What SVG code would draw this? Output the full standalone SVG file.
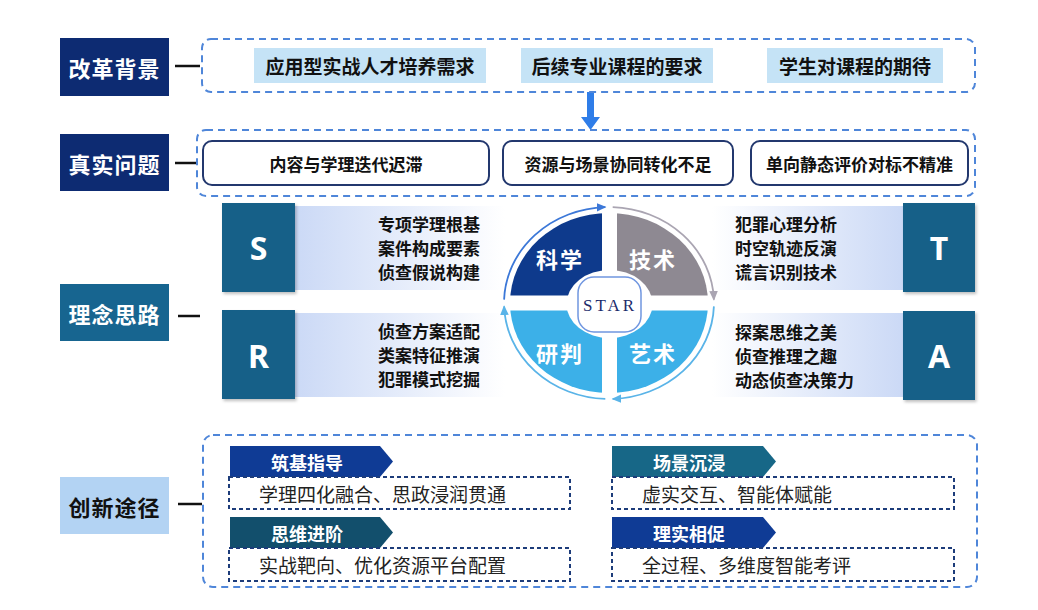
<svg xmlns="http://www.w3.org/2000/svg" width="1038" height="610" viewBox="0 0 1038 610">
<style>
.lbl{font-family:"Noto Sans CJK SC","Noto Sans",sans-serif;font-weight:700;font-size:22px;letter-spacing:1px;text-anchor:middle;dominant-baseline:central}
.w{fill:#fff}
.dk{fill:#111}
.conn{stroke:#111;stroke-width:2.5}
.dash{fill:none;stroke:#4f86d9;stroke-width:2;stroke-dasharray:7 5}
.need{fill:#c5e3f6}
.needt{font-family:"Noto Sans CJK SC",sans-serif;font-weight:700;font-size:19px;fill:#111;text-anchor:middle;dominant-baseline:central}
.prob{fill:#fff;stroke:#23386e;stroke-width:2}
.probt{font-family:"Noto Sans CJK SC",sans-serif;font-weight:700;font-size:17px;fill:#111;text-anchor:middle;dominant-baseline:central}
.letter{fill:#156188}
.lt{font-family:"Noto Sans","Liberation Sans",sans-serif;font-weight:700;font-size:32px;fill:#fff;text-anchor:middle;dominant-baseline:central}
.item{font-family:"Noto Sans CJK SC",sans-serif;font-weight:700;font-size:17px;fill:#111}
.q{font-family:"Noto Sans CJK SC",sans-serif;font-weight:700;font-size:22px;letter-spacing:2px;fill:#fff;text-anchor:middle;dominant-baseline:central}
.tag{font-family:"Noto Sans CJK SC",sans-serif;font-weight:700;font-size:18px;fill:#fff;dominant-baseline:central}
.pbox{fill:#fff;stroke:#1d3c7a;stroke-width:2;stroke-dasharray:4 3}
.pt{font-family:"Noto Sans CJK SC",sans-serif;font-weight:400;font-size:19px;fill:#222;dominant-baseline:central}
</style>
<defs>
<linearGradient id="gS" x1="0" y1="0" x2="1" y2="0"><stop offset="0" stop-color="#cbd9f6"/><stop offset="1" stop-color="#ffffff"/></linearGradient>
<linearGradient id="gT" x1="0" y1="0" x2="1" y2="0"><stop offset="0" stop-color="#ffffff"/><stop offset="1" stop-color="#cbd9f6"/></linearGradient>
<filter id="sh" x="-10%" y="-10%" width="130%" height="130%"><feDropShadow dx="1.5" dy="2" stdDeviation="1.5" flood-color="#000" flood-opacity="0.25"/></filter>
<marker id="mB" viewBox="0 0 10 10" refX="8" refY="5" markerWidth="6" markerHeight="6" orient="auto"><path d="M0,1 L9,5 L0,9 Z" fill="#3c78d8"/></marker>
<marker id="mG" viewBox="0 0 10 10" refX="8" refY="5" markerWidth="6" markerHeight="6" orient="auto"><path d="M0,1 L9,5 L0,9 Z" fill="#aaa5b2"/></marker>
<marker id="mL" viewBox="0 0 10 10" refX="8" refY="5" markerWidth="6" markerHeight="6" orient="auto"><path d="M0,1 L9,5 L0,9 Z" fill="#5ab4e8"/></marker>
</defs>
<rect width="1038" height="610" fill="#fff"/>

<g id="connectors">
<line class="conn" x1="175" y1="66" x2="200" y2="66"/>
<line class="conn" x1="175" y1="163" x2="198" y2="163"/>
<line class="conn" x1="178" y1="316" x2="200" y2="316"/>
<line class="conn" x1="178" y1="504" x2="202" y2="504"/>
<path d="M587,92 L594,92 L594,117 L600,117 L590.5,130 L581,117 L587,117 Z" fill="#2f7de8"/>
</g>

<g id="bg-row">
<rect x="60" y="38" width="109" height="58" fill="#0d2b72"/>
<text class="lbl w" x="114.5" y="67">改革背景</text>
<rect class="dash" x="202" y="39" width="773" height="53" rx="9"/>
<rect class="need" x="254" y="48" width="232" height="35"/>
<text class="needt" x="370" y="65.5">应用型实战人才培养需求</text>
<rect class="need" x="521" y="48" width="192" height="35"/>
<text class="needt" x="617" y="65.5">后续专业课程的要求</text>
<rect class="need" x="767" y="48" width="176" height="35"/>
<text class="needt" x="855" y="65.5">学生对课程的期待</text>
</g>

<g id="problem-row">
<rect x="60" y="134" width="109" height="57" fill="#0d2b72"/>
<text class="lbl w" x="114.5" y="162.5">真实问题</text>
<rect class="dash" x="197" y="130" width="778" height="66" rx="9"/>
<rect class="prob" x="203" y="141" width="286" height="44" rx="9"/>
<text class="probt" x="346" y="163">内容与学理迭代迟滞</text>
<rect class="prob" x="503" y="141" width="230" height="44" rx="9"/>
<text class="probt" x="618" y="163">资源与场景协同转化不足</text>
<rect class="prob" x="751" y="141" width="217" height="44" rx="9"/>
<text class="probt" x="859.5" y="163">单向静态评价对标不精准</text>
</g>

<g id="idea-label">
<rect x="60" y="284" width="109" height="57" fill="#176590"/>
<text class="lbl w" x="114.5" y="312.5">理念思路</text>
</g>

<g id="node-S">
<rect x="295" y="206" width="210" height="84" fill="url(#gS)"/>
<rect class="letter" x="222" y="203" width="73" height="89" filter="url(#sh)"/>
<text class="lt" x="258.5" y="247">S</text>
<text class="item" x="480" y="231" text-anchor="end">专项学理根基</text>
<text class="item" x="480" y="255" text-anchor="end">案件构成要素</text>
<text class="item" x="480" y="279" text-anchor="end">侦查假说构建</text>
</g>
<g id="node-R">
<rect x="295" y="313" width="210" height="84" fill="url(#gS)"/>
<rect class="letter" x="222" y="310" width="73" height="89" filter="url(#sh)"/>
<text class="lt" x="258.5" y="355">R</text>
<text class="item" x="480" y="338" text-anchor="end">侦查方案适配</text>
<text class="item" x="480" y="362" text-anchor="end">类案特征推演</text>
<text class="item" x="480" y="386" text-anchor="end">犯罪模式挖掘</text>
</g>
<g id="node-T">
<rect x="712" y="206" width="191" height="84" fill="url(#gT)"/>
<rect class="letter" x="903" y="203" width="72" height="89" filter="url(#sh)"/>
<text class="lt" x="939" y="247">T</text>
<text class="item" x="735" y="231">犯罪心理分析</text>
<text class="item" x="735" y="255">时空轨迹反演</text>
<text class="item" x="735" y="279">谎言识别技术</text>
</g>
<g id="node-A">
<rect x="712" y="313" width="191" height="84" fill="url(#gT)"/>
<rect class="letter" x="903" y="311" width="72" height="89" filter="url(#sh)"/>
<text class="lt" x="939" y="355">A</text>
<text class="item" x="735" y="339">探案思维之美</text>
<text class="item" x="735" y="363">侦查推理之趣</text>
<text class="item" x="735" y="387">动态侦查决策力</text>
</g>

<g id="star">
<path d="M609,303 L510,303 A99 90 0 0 1 609,213 Z" fill="#0e3a8c"/>
<path d="M609,303 L609,213 A99 90 0 0 1 708,303 Z" fill="#8e8992"/>
<path d="M609,303 L708,303 A99 90 0 0 1 609,393 Z" fill="#3cb0e8"/>
<path d="M609,303 L609,393 A99 90 0 0 1 510,303 Z" fill="#3cb0e8"/>
<rect x="602" y="205" width="15" height="196" fill="#fff"/>
<rect x="502" y="295.5" width="214" height="15" fill="#fff"/>
<ellipse cx="609.5" cy="304" rx="43" ry="34" fill="#fff"/>
<rect x="578" y="277" width="63" height="55" rx="16" fill="#fff" stroke="#7096e0" stroke-width="1.5"/>
<text x="610" y="305" font-family="Liberation Serif,serif" font-size="17" letter-spacing="3" fill="#1b2b6b" text-anchor="middle" dominant-baseline="central">STAR</text>
<text class="q" x="560" y="258">科学</text>
<text class="q" x="653" y="258">技术</text>
<text class="q" x="560" y="352">研判</text>
<text class="q" x="653" y="352">艺术</text>
<path d="M504.1,299.6 A105 96 0 0 1 605.3,207.1" fill="none" stroke="#3c78d8" stroke-width="1.8" marker-end="url(#mB)"/>
<path d="M612.7,207.1 A105 96 0 0 1 713.9,299.6" fill="none" stroke="#aaa5b2" stroke-width="1.8" marker-end="url(#mG)"/>
<path d="M713.9,306.4 A105 96 0 0 1 612.7,398.9" fill="none" stroke="#5ab4e8" stroke-width="1.8" marker-end="url(#mL)"/>
<path d="M605.3,398.9 A105 96 0 0 1 504.1,306.4" fill="none" stroke="#5ab4e8" stroke-width="1.8" marker-end="url(#mL)"/>
</g>

<g id="path-label">
<rect x="60" y="477" width="109" height="57" fill="#b3d3f3"/>
<text class="lbl dk" x="114.5" y="505.5">创新途径</text>
<rect class="dash" x="203" y="435" width="774" height="152" rx="10"/>
</g>

<g id="path-1">
<polygon points="230,446 380,446 393,461.5 380,477 230,477" fill="#0f3b95"/>
<text class="tag" x="271" y="461.5">筑基指导</text>
<rect class="pbox" x="229" y="477" width="341" height="32"/>
<text class="pt" x="259" y="493">学理四化融合、思政浸润贯通</text>
</g>
<g id="path-2">
<polygon points="230,517 380,517 393,532.5 380,548 230,548" fill="#124f6c"/>
<text class="tag" x="271" y="532.5">思维进阶</text>
<rect class="pbox" x="229" y="548" width="341" height="33"/>
<text class="pt" x="259" y="564.5">实战靶向、优化资源平台配置</text>
</g>
<g id="path-3">
<polygon points="612,446 763,446 776,461.5 763,477 612,477" fill="#176787"/>
<text class="tag" x="653" y="461.5">场景沉浸</text>
<rect class="pbox" x="612" y="477" width="342" height="32"/>
<text class="pt" x="642" y="493">虚实交互、智能体赋能</text>
</g>
<g id="path-4">
<polygon points="612,517 763,517 776,532.5 763,548 612,548" fill="#0f3b95"/>
<text class="tag" x="653" y="532.5">理实相促</text>
<rect class="pbox" x="612" y="548" width="342" height="33"/>
<text class="pt" x="642" y="564.5">全过程、多维度智能考评</text>
</g>
</svg>
